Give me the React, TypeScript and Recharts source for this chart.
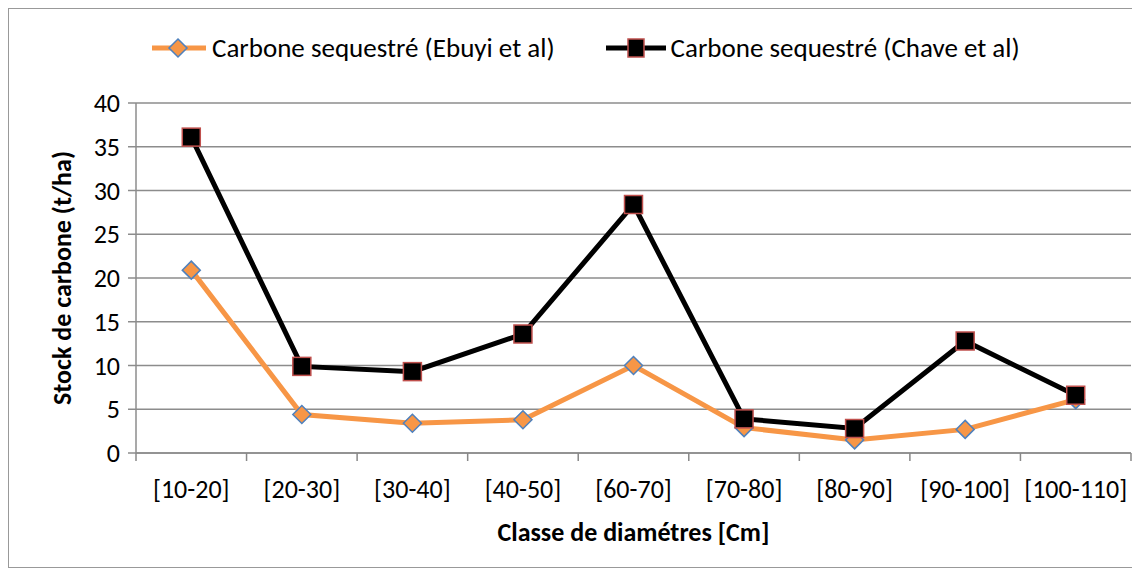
import { LineChart, Line, XAxis, YAxis, CartesianGrid } from "recharts";

const categories = [
  "[10-20]",
  "[20-30]",
  "[30-40]",
  "[40-50]",
  "[60-70]",
  "[70-80]",
  "[80-90]",
  "[90-100]",
  "[100-110]",
];
const ebuyi = [20.9, 4.4, 3.4, 3.8, 10.0, 2.9, 1.5, 2.7, 6.1];
const chave = [36.1, 9.9, 9.3, 13.6, 28.4, 3.9, 2.8, 12.8, 6.6];
const yTicks = [0, 5, 10, 15, 20, 25, 30, 35, 40];

const data = categories.map((c, i) => ({ cat: c, ebuyi: ebuyi[i], chave: chave[i] }));

const FONT = "Carlito, Calibri, 'Open Sans', sans-serif";
const W = 1132;
const H = 558;
const M = { top: 94, right: 10, bottom: 60, left: 40 };
const YW = 87;
const plotW = W - M.left - YW - M.right;
const band = plotW / categories.length;

const Diamond = (props: any) => {
  const { cx, cy } = props;
  if (cx == null || cy == null) return null;
  const r = 9;
  return (
    <polygon
      points={`${cx},${cy - r} ${cx + r},${cy} ${cx},${cy + r} ${cx - r},${cy}`}
      fill="#F79646"
      stroke="#4F81BD"
      strokeWidth={1.5}
    />
  );
};

const Square = (props: any) => {
  const { cx, cy } = props;
  if (cx == null || cy == null) return null;
  const r = 9;
  return (
    <rect x={cx - r} y={cy - r} width={2 * r} height={2 * r} fill="#000" stroke="#C0504D" strokeWidth={1.5} />
  );
};

const XTick = (props: any) => {
  const { x, y, payload, index } = props;
  const y0 = y - 8;
  return (
    <g>
      <line x1={x - band / 2} y1={y0} x2={x - band / 2} y2={y0 + 8} stroke="#888" strokeWidth={1.5} />
      {index === categories.length - 1 && (
        <line x1={x + band / 2} y1={y0} x2={x + band / 2} y2={y0 + 8} stroke="#888" strokeWidth={1.5} />
      )}
      <text x={x} y={y0 + 45} textAnchor="middle" fontSize={26} fill="#000" fontFamily={FONT}>
        {payload.value}
      </text>
    </g>
  );
};

const ChartLegend = () => (
  <div
    style={{
      position: "absolute",
      top: 22,
      left: 143,
      display: "flex",
      fontFamily: FONT,
      fontSize: 27,
      color: "#000",
      whiteSpace: "nowrap",
    }}
  >
    <div style={{ display: "flex", alignItems: "center", marginRight: 51 }}>
      <svg width={54} height={24}>
        <line x1={0} y1={12} x2={54} y2={12} stroke="#F79646" strokeWidth={5} />
        <polygon points="26,3 35,12 26,21 17,12" fill="#F79646" stroke="#4F81BD" strokeWidth={1.5} />
      </svg>
      <span style={{ marginLeft: 6 }}>Carbone sequestré (Ebuyi et al)</span>
    </div>
    <div style={{ display: "flex", alignItems: "center" }}>
      <svg width={60} height={24}>
        <line x1={0} y1={12} x2={60} y2={12} stroke="#000" strokeWidth={5} />
        <rect x={22} y={3} width={16} height={18} fill="#000" stroke="#C0504D" strokeWidth={1.5} />
      </svg>
      <span style={{ marginLeft: 5 }}>Carbone sequestré (Chave et al)</span>
    </div>
  </div>
);

export default function App() {
  return (
    <div style={{ width: W, height: H, border: "1px solid #999", position: "relative", fontFamily: FONT }}>
      <ChartLegend />
      <LineChart width={W} height={H} data={data} margin={M}>
        <CartesianGrid vertical={false} stroke="#8c8c8c" strokeWidth={1.5} />
        <XAxis
          dataKey="cat"
          scale="band"
          tick={<XTick />}
          tickLine={false}
          axisLine={{ stroke: "#8c8c8c", strokeWidth: 1.5 }}
          interval={0}
          height={54}
          label={{
            value: "Classe de diamétres [Cm]",
            position: "insideBottom",
            offset: -34,
            style: { fontSize: 26, fontWeight: "bold", fill: "#000", fontFamily: FONT },
          }}
        />
        <YAxis
          domain={[0, 40]}
          ticks={yTicks}
          width={YW}
          tick={{ fontSize: 26, fill: "#000", fontFamily: FONT }}
          tickLine={{ stroke: "#8c8c8c", strokeWidth: 1.5 }}
          tickSize={8}
          tickMargin={8}
          axisLine={{ stroke: "#8c8c8c", strokeWidth: 1.5 }}
          label={{
            value: "Stock de carbone (t/ha)",
            angle: -90,
            position: "center",
            dx: -31,
            style: { fontSize: 26, fontWeight: "bold", fill: "#000", fontFamily: FONT },
          }}
        />
        <Line
          dataKey="ebuyi"
          stroke="#F79646"
          strokeWidth={5}
          dot={<Diamond />}
          activeDot={false}
          isAnimationActive={false}
        />
        <Line
          dataKey="chave"
          stroke="#000"
          strokeWidth={5}
          dot={<Square />}
          activeDot={false}
          isAnimationActive={false}
        />
      </LineChart>
    </div>
  );
}
